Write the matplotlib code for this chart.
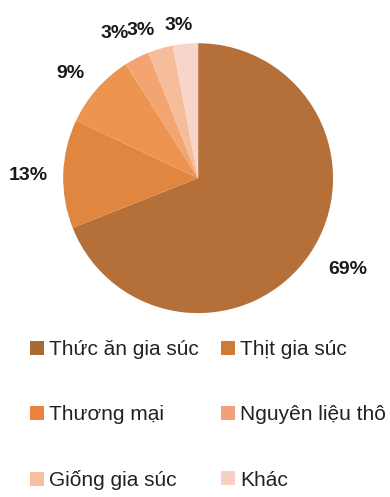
import numpy as np
import matplotlib
matplotlib.use("Agg")
import matplotlib.pyplot as plt
from matplotlib.patches import Patch

plt.rcParams["font.family"] = ["Liberation Sans", "DejaVu Sans"]

# data
categories = ["Thức ăn gia súc", "Thịt gia súc", "Thương mại",
              "Nguyên liệu thô", "Giống gia súc", "Khác"]
shares = [69, 13, 9, 3, 3, 3]
pct_labels = ["69%", "13%", "9%", "3%", "3%", "3%"]

# wedge colours (pie) and legend swatch colours as they appear in the picture
wedge_colors = ["#B5703A", "#DF8640", "#EC9450", "#F2A570", "#F5BD9A", "#F8D5C8"]
legend_colors = ["#A86A35", "#D17A33", "#E8823D", "#F0A07A", "#F6BFA0", "#F6D0C5"]
label_dist = [1.30, 1.26, 1.22, 1.24, 1.17, 1.14]
label_shift = [3, 1, 2, 3, 5, 2]  # degrees, nudges crowded labels apart

fig = plt.figure(figsize=(3.90, 4.97), dpi=100)
ax = fig.add_axes([0.162, 0.370, 0.692, 0.543])

wedges, _ = ax.pie(shares, colors=wedge_colors, startangle=90,
                   counterclock=False, radius=1.0,
                   wedgeprops=dict(linewidth=0))

for w, txt, d, s in zip(wedges, pct_labels, label_dist, label_shift):
    mid = np.deg2rad((w.theta1 + w.theta2) / 2 + s)
    ax.text(d * np.cos(mid), d * np.sin(mid), txt, ha="center", va="center",
            fontsize=14, fontweight="bold", color="#1a1a1a")

ax.set_xlim(-1, 1)
ax.set_ylim(-1, 1)
ax.set_aspect("equal")
ax.axis("off")

# legend is read row by row in the reference; matplotlib fills column-wise
order = [0, 2, 4, 1, 3, 5]
handles = [Patch(facecolor=legend_colors[i], edgecolor="none") for i in order]
labels = [categories[i] for i in order]
fig.legend(handles, labels, ncol=2, frameon=False,
           loc="upper left", bbox_to_anchor=(30 / 390, 1 - 340 / 497),
           borderaxespad=0, borderpad=0, fontsize=15,
           labelspacing=2.22, handlelength=0.67, handleheight=0.67,
           handletextpad=0.25, columnspacing=1.05, labelcolor="#222222")

fig.savefig("out.png", dpi=100)
